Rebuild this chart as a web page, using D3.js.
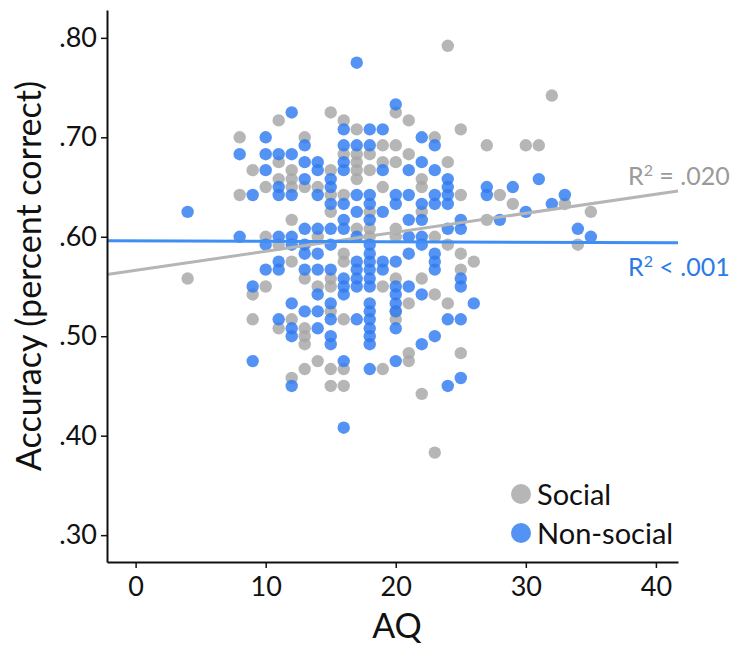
<!DOCTYPE html>
<html>
<head>
<meta charset="utf-8">
<style>
  body { margin: 0; background: #fff; }
  svg text { font-family: Lato, "Open Sans", sans-serif; }
</style>
</head>
<body>
<script src="https://cdn.jsdelivr.net/npm/d3@7/dist/d3.min.js"></script>
<script>

// *** DATA (AQ score, accuracy) ***

var social = [
  [4,.558],
  [8,.700],[8,.642],
  [9,.667],[9,.542],[9,.517],
  [10,.650],[10,.600],[10,.550],
  [11,.717],[11,.675],[11,.658],[11,.592],[11,.508],
  [12,.667],[12,.658],[12,.650],[12,.617],[12,.575],[12,.517],[12,.458],
  [13,.700],[13,.650],[13,.558],[13,.508],[13,.500],[13,.492],[13,.467],
  [14,.650],[14,.600],[14,.550],[14,.475],
  [15,.725],[15,.667],[15,.642],[15,.625],[15,.558],[15,.550],[15,.525],[15,.467],[15,.450],
  [16,.717],[16,.683],[16,.642],[16,.583],[16,.575],[16,.517],[16,.467],[16,.450],
  [17,.708],[17,.683],[17,.675],[17,.667],[17,.658],[17,.608],
  [18,.683],[18,.667],[18,.625],[18,.608],[18,.600],
  [19,.692],[19,.675],[19,.650],[19,.550],[19,.467],
  [20,.725],[20,.692],[20,.675],[20,.608],[20,.600],[20,.558],[20,.525],[20,.517],
  [21,.717],[21,.683],[21,.533],[21,.483],[21,.475],
  [22,.658],[22,.650],[22,.625],[22,.558],[22,.442],
  [23,.700],[23,.600],[23,.542],[23,.383],
  [24,.792],[24,.675],[24,.592],[24,.533],
  [25,.708],[25,.642],[25,.583],[25,.567],[25,.483],
  [26,.575],
  [27,.692],[27,.617],
  [28,.642],[29,.633],[30,.692],[31,.692],[32,.742],[33,.633],[34,.592],[35,.625]
];

var nonSocial = [
  [4,.625],
  [8,.683],[8,.600],
  [9,.642],[9,.550],[9,.475],
  [10,.700],[10,.683],[10,.667],[10,.592],[10,.567],
  [11,.683],[11,.650],[11,.642],[11,.600],[11,.575],[11,.567],[11,.517],
  [12,.725],[12,.683],[12,.642],[12,.600],[12,.592],[12,.533],[12,.508],[12,.500],[12,.450],
  [13,.692],[13,.675],[13,.658],[13,.608],[13,.592],[13,.583],[13,.567],[13,.525],
  [14,.675],[14,.667],[14,.642],[14,.608],[14,.583],[14,.567],[14,.542],[14,.525],[14,.508],
  [15,.658],[15,.650],[15,.633],[15,.608],[15,.592],[15,.567],[15,.533],[15,.517],[15,.500],[15,.492],
  [16,.708],[16,.692],[16,.675],[16,.667],[16,.633],[16,.617],[16,.608],[16,.558],[16,.550],[16,.542],[16,.475],[16,.408],
  [17,.775],[17,.692],[17,.642],[17,.625],[17,.600],[17,.575],[17,.567],[17,.558],[17,.550],[17,.517],
  [18,.708],[18,.692],[18,.642],[18,.633],[18,.617],[18,.592],[18,.583],[18,.575],[18,.567],[18,.558],
  [18,.550],[18,.533],[18,.525],[18,.517],[18,.508],[18,.500],[18,.492],[18,.467],
  [19,.708],[19,.667],[19,.625],[19,.575],[19,.567],
  [20,.733],[20,.642],[20,.633],[20,.575],[20,.550],[20,.542],[20,.533],[20,.525],[20,.508],[20,.475],
  [21,.667],[21,.642],[21,.617],[21,.600],[21,.583],[21,.550],
  [22,.700],[22,.675],[22,.633],[22,.617],[22,.600],[22,.592],[22,.542],[22,.492],
  [23,.692],[23,.667],[23,.642],[23,.633],[23,.583],[23,.575],[23,.567],[23,.500],
  [24,.658],[24,.650],[24,.642],[24,.633],[24,.608],[24,.517],[24,.450],
  [25,.617],[25,.608],[25,.558],[25,.550],[25,.517],[25,.458],
  [26,.533],
  [27,.650],[27,.642],
  [28,.617],[29,.650],[30,.625],[31,.658],[32,.633],[33,.642],[34,.608],[35,.600]
];

// fitted lines, end points
var socialFit = [[-2.2,.562],[41.7,.646]];
var nonSocialFit = [[-2.2,.596],[41.7,.594]];

var xTicks = [0,10,20,30,40];
var yTicks = [.30,.40,.50,.60,.70,.80];

var legendNames = ["Social","Non-social"];
var fitLabels = [".020", ".001"];

// *** CHART ***

var W = 744, H = 647;
var mLeft = 107, mRight = 678, mTop = 10, mBottom = 562;

var grey = "#a6a6a6", blue = "#2e7bf0";

var svg = d3.select("body").append("svg")
  .attr("width", W)
  .attr("height", H);

var x = d3.scaleLinear().domain([-2.2, 41.7]).range([mLeft, mRight]);
var y = d3.scaleLinear().domain([0.273, 0.828]).range([mBottom, mTop]);

// points
function drawPoints(data, col, op){
  svg.append("g").selectAll("circle").data(data)
    .enter().append("circle")
      .attr("cx", function(d){ return x(d[0]); })
      .attr("cy", function(d){ return y(d[1]); })
      .attr("r", 6.2)
      .style("fill", col)
      .style("fill-opacity", op);
}
drawPoints(social, grey, 0.82);
drawPoints(nonSocial, blue, 0.82);

// fit lines
var line = d3.line()
  .x(function(d){ return x(d[0]); })
  .y(function(d){ return y(d[1]); });

svg.append("path").datum(socialFit)
  .attr("d", line)
  .style("fill", "none")
  .style("stroke", "#b5b5b5")
  .style("stroke-width", 3);

svg.append("path").datum(nonSocialFit)
  .attr("d", line)
  .style("fill", "none")
  .style("stroke", "#3f8ef5")
  .style("stroke-width", 3);

// axes
var xAxis = d3.axisBottom(x).tickValues(xTicks).tickSize(6).tickPadding(9).tickSizeOuter(0);
var yAxis = d3.axisLeft(y).tickValues(yTicks).tickSize(6).tickPadding(4).tickSizeOuter(0)
  .tickFormat(function(d){ return d3.format(".2f")(d).replace(/^0/, ""); });

var gx = svg.append("g").attr("transform", "translate(0," + mBottom + ")").call(xAxis);
var gy = svg.append("g").attr("transform", "translate(" + mLeft + ",0)").call(yAxis);

[gx, gy].forEach(function(g){
  g.select(".domain").style("stroke", "#111").style("stroke-width", 2);
  g.selectAll(".tick line").style("stroke", "#111").style("stroke-width", 1.5);
  g.selectAll(".tick text")
    .style("font-size", "27px")
    .style("fill", "#111")
    .style("font-family", "Lato, sans-serif");
});

// axis titles
svg.append("text")
  .attr("x", 397)
  .attr("y", 638)
  .attr("text-anchor", "middle")
  .style("font-size", "34px")
  .style("fill", "#111")
  .text("AQ");

svg.append("text")
  .attr("transform", "translate(41,276) rotate(-90)")
  .attr("text-anchor", "middle")
  .style("font-size", "34px")
  .style("fill", "#111")
  .text("Accuracy (percent correct)");

// R squared labels
function r2Label(px, py, col, sign, val){
  var t = svg.append("text")
    .attr("x", px)
    .attr("y", py)
    .style("font-size", "25px")
    .style("fill", col);
  t.append("tspan").text("R");
  t.append("tspan").attr("dy", -9).style("font-size", "16px").text("2");
  t.append("tspan").attr("dy", 9).text(" " + sign + " " + val);
}
r2Label(628, 185, "#9a9a9a", "=", fitLabels[0]);
r2Label(628, 276, "#2a7ae8", "<", fitLabels[1]);

// legend
var legCols = [grey, blue];
var leg = svg.append("g").selectAll("g").data(legendNames)
  .enter().append("g")
    .attr("transform", function(d, i){ return "translate(521," + (494 + i*39) + ")"; });

leg.append("circle")
  .attr("r", 10)
  .style("fill", function(d, i){ return legCols[i]; })
  .style("fill-opacity", 0.82);

leg.append("text")
  .attr("x", 16)
  .attr("y", 11)
  .style("font-size", "29px")
  .style("fill", "#111")
  .text(function(d){ return d; });

</script>
</body>
</html>
